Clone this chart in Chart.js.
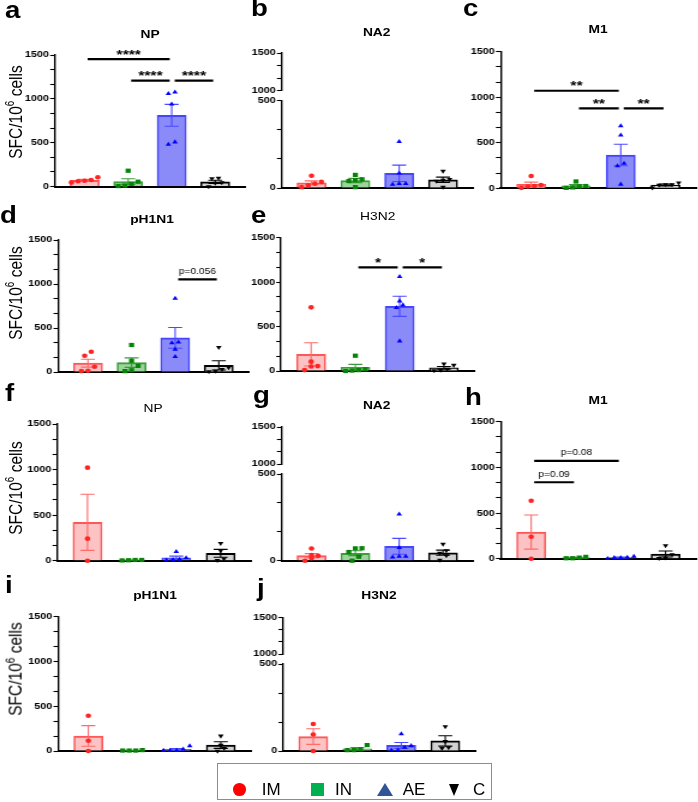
<!DOCTYPE html>
<html>
<head>
<meta charset="utf-8">
<script src="https://cdn.jsdelivr.net/npm/chart.js@4.4.1/dist/chart.umd.min.js"></script>
<style>
html,body{margin:0;padding:0;background:#fff;width:698px;height:802px;overflow:hidden;font-family:"Liberation Sans",Arial,sans-serif;}
#fig{position:absolute;left:0;top:0;width:582px;height:802px;transform:scaleX(1.2);transform-origin:0 0;}
#fig canvas{position:absolute;}
.lbl{position:absolute;font-weight:bold;font-size:23px;line-height:23px;color:#000;white-space:nowrap;}
.ttl{position:absolute;font-size:11.5px;color:#000;transform:translate(-50%,-50%);white-space:nowrap;}
.ytl{position:absolute;font-size:15.5px;color:#000;white-space:nowrap;transform:translate(-50%,-50%) rotate(-90deg);}
.ytl sup{font-size:10px;vertical-align:6px;line-height:0;}
#legend{position:absolute;left:217px;top:763px;width:275px;height:37px;border:1.5px solid #8d8d8d;box-sizing:border-box;}
.lg{position:absolute;}
.lt{position:absolute;font-size:17px;line-height:17px;color:#000;}
</style>
</head>
<body>
<div id="fig"></div>
<div id="legend"></div>
<div class="lg" style="left:233px;top:783px;width:12.7px;height:12.7px;border-radius:50%;background:#ff0000;"></div>
<div class="lt" style="left:261.7px;top:781px;">IM</div>
<div class="lg" style="left:311px;top:783px;width:13px;height:13px;background:#00b050;"></div>
<div class="lt" style="left:335px;top:781px;">IN</div>
<div class="lg" style="left:376.5px;top:783px;width:0;height:0;border-left:8.5px solid transparent;border-right:8.5px solid transparent;border-bottom:13px solid #2f5597;"></div>
<div class="lt" style="left:402.7px;top:781px;">AE</div>
<div class="lg" style="left:449.2px;top:783.5px;width:0;height:0;border-left:5.8px solid transparent;border-right:5.8px solid transparent;border-top:12.5px solid #000;"></div>
<div class="lt" style="left:473px;top:781px;">C</div>
<script>
// ---------------- data ----------------
const groups = ['IM', 'IN', 'AE', 'C'];
const panelLetters = ['a', 'b', 'c', 'd', 'e', 'f', 'g', 'h', 'i', 'j'];
const panelTitles = ['NP', 'NA2', 'M1', 'pH1N1', 'H3N2', 'NP', 'NA2', 'M1', 'pH1N1', 'H3N2'];
const yAxisTitleMain = 'SFC/10';
const yAxisTitleSup = '6';
const yAxisTitleEnd = ' cells';
const ticksFull = [0, 500, 1000, 1500];
const ticksLow = [0, 500];
const ticksHigh = [1000, 1500];

const meanA = [70, 56, 812, 54];
const semA = [11, 32, 125, 18];
const ptsA_IM = [45, 60, 65, 75, 105];
const ptsA_IN = [180, 55, 30, 5, 10];
const ptsA_AE = [1075, 1058, 940, 481, 507];
const ptsA_C = [90, 95, 45, 40, 0];
const sigA = [[0, 2, 1454, '****'], [1, 2, 1207, '****'], [2, 3, 1207, '****']];

const meanB = [30, 43, 84, 47];
const semB = [11, 12, 47, 15];
const ptsB_IM = [70, 35, 25, 5, 15];
const ptsB_IN = [75, 50, 45, 40, 5];
const ptsB_AE = [265, 85, 25, 20, 25];
const ptsB_C = [97, 50, 45, 40, 5];

const meanC = [44, 27, 366, 36];
const semC = [24, 13, 118, 10];
const ptsC_IM = [135, 35, 25, 5, 20];
const ptsC_IN = [75, 25, 20, 10, 5];
const ptsC_AE = [684, 584, 274, 245, 44];
const ptsC_C = [60, 40, 35, 40, 5];
const sigC = [[0, 2, 1071, '**'], [1, 2, 878, '**'], [2, 3, 878, '**']];

const meanD = [100, 107, 388, 75];
const semD = [45, 54, 118, 52];
const ptsD_IM = [230, 185, 60, 15, 10];
const ptsD_IN = [307, 128, 70, 20, 10];
const ptsD_AE = [837, 330, 340, 258, 174];
const ptsD_C = [281, 50, 30, 10, 5];
const sigD = [[2, 3, 1053, 'p=0.056']];

const meanE = [187, 41, 728, 36];
const semE = [131, 33, 113, 15];
const ptsE_IM = [716, 105, 55, 50, 10];
const ptsE_IN = [172, 20, 10, 5, 0];
const ptsE_AE = [1061, 787, 742, 712, 337];
const ptsE_C = [80, 65, 20, 10, 5];
const sigE = [[1, 2, 1167, '*'], [2, 3, 1167, '*']];

const meanF = [421, 6, 32, 81];
const semF = [308, 1.5, 18, 43];
const ptsF_IM = [1021, 242, 0];
const ptsF_IN = [3, 8, 5, 8];
const ptsF_AE = [99, 30, 15, 5, 10];
const ptsF_C = [190, 110, 20, 5];

const meanG = [29, 43, 83, 46];
const semG = [12, 14, 46, 15];
const ptsG_IM = [70, 33, 28, 15, 0];
const ptsG_IN = [71, 72, 50, 23, 0];
const ptsG_AE = [268, 75, 25, 20, 25];
const ptsG_C = [96, 58, 44, 30, 4];

const meanH = [292, 10, 12, 51];
const semH = [187, 4, 5, 33];
const ptsH_IM = [635, 241, 0];
const ptsH_IN = [5, 20, 5, 12];
const ptsH_AE = [10, 25, 10, 15, 0];
const ptsH_C = [143, 45, 10, 5];
const sigH = [[0, 2, 1070, 'p=0.08'], [0, 1, 837, 'p=0.09']];

const meanI = [168, 6, 18, 66];
const semI = [115, 2, 10, 37];
const ptsI_IM = [394, 115, 0];
const ptsI_IN = [5, 10, 5, 5];
const ptsI_AE = [56, 5, 20, 5, 5];
const ptsI_C = [168, 65, 30, 0];

const meanJ = [83, 13, 32, 58];
const semJ = [45, 7, 17, 30];
const ptsJ_IM = [155, 95, 0];
const ptsJ_IN = [34, 10, 5, 5];
const ptsJ_AE = [98, 30, 20, 5, 5];
const ptsJ_C = [140, 55, 20, 15];

const panels = [
  {mean: meanA, sem: semA, pts: [ptsA_IM, ptsA_IN, ptsA_AE, ptsA_C], sig: sigA, broken: false},
  {mean: meanB, sem: semB, pts: [ptsB_IM, ptsB_IN, ptsB_AE, ptsB_C], sig: null, broken: true},
  {mean: meanC, sem: semC, pts: [ptsC_IM, ptsC_IN, ptsC_AE, ptsC_C], sig: sigC, broken: false},
  {mean: meanD, sem: semD, pts: [ptsD_IM, ptsD_IN, ptsD_AE, ptsD_C], sig: sigD, broken: false},
  {mean: meanE, sem: semE, pts: [ptsE_IM, ptsE_IN, ptsE_AE, ptsE_C], sig: sigE, broken: false},
  {mean: meanF, sem: semF, pts: [ptsF_IM, ptsF_IN, ptsF_AE, ptsF_C], sig: null, broken: false},
  {mean: meanG, sem: semG, pts: [ptsG_IM, ptsG_IN, ptsG_AE, ptsG_C], sig: null, broken: true},
  {mean: meanH, sem: semH, pts: [ptsH_IM, ptsH_IN, ptsH_AE, ptsH_C], sig: sigH, broken: false},
  {mean: meanI, sem: semI, pts: [ptsI_IM, ptsI_IN, ptsI_AE, ptsI_C], sig: null, broken: false},
  {mean: meanJ, sem: semJ, pts: [ptsJ_IM, ptsJ_IN, ptsJ_AE, ptsJ_C], sig: null, broken: true}
];

// ---------------- styles & layout ----------------
const SX = 1.2;            // horizontal stretch of the figure
const XMIN = -0.68, XMAX = 3.68;
const LW = 36, PADV = 12;
const BARW = 29, CAP = 7, STEP = 6.6, THR = 5.5;
const barFill = ['#fbc3c3', '#9dd49d', '#8a8af9', '#d3d3d3'];
const barLine = ['#ff5656', '#3d9e3d', '#4545fb', '#000000'];
const errColor = ['#ff6a6a', '#3a9a3a', '#4a4aff', '#000000'];
const ptColor = ['#ff2424', '#078407', '#0000ff', '#000000'];
const ptStyle = ['circle', 'rect', 'triangle', 'triangle'];
const ptRot = [0, 0, 0, 180];
const ptRadius = [2.3, 3.0, 2.7, 2.7];
const FONT = '"Liberation Sans", Arial, sans-serif';

const L = [
  {axL: 55, axR: 245, top: 55, bot: 186.5, lx: 5, ly: 18.5, tx: 150, ty: 33.5, bold: true, yt: 112},
  {axL: 281.7, axR: 473, top: 100.7, bot: 188, sTop: 53, sBot: 90.7, lx: 251, ly: 16.5, tx: 376.7, ty: 31.7, bold: true},
  {axL: 500.7, axR: 697, top: 51.7, bot: 188.3, lx: 463, ly: 16.7, tx: 598, ty: 29.3, bold: true},
  {axL: 58.3, axR: 249, top: 240, bot: 372, lx: 0, ly: 223, tx: 152, ty: 219, bold: true, yt: 293},
  {axL: 281, axR: 475, top: 237.7, bot: 371, lx: 251, ly: 223, tx: 377.7, ty: 215.5, bold: false},
  {axL: 57.3, axR: 252, top: 424, bot: 560.7, lx: 5, ly: 401.7, tx: 153, ty: 408, bold: false, yt: 487.5},
  {axL: 281.7, axR: 473, top: 474, bot: 560.7, sTop: 427, sBot: 464, lx: 253, ly: 403, tx: 376.7, ty: 405, bold: true},
  {axL: 500.7, axR: 697, top: 421.7, bot: 558.7, lx: 465, ly: 405, tx: 598, ty: 400, bold: true},
  {axL: 58.3, axR: 252, top: 616.7, bot: 751, lx: 5, ly: 593, tx: 155, ty: 594.5, bold: true, yt: 669},
  {axL: 283.3, axR: 476, top: 664, bot: 751, sTop: 617.7, sBot: 654, lx: 257, ly: 596, tx: 379, ty: 594.5, bold: true}
];

Chart.defaults.font.family = FONT;
const fig = document.getElementById('fig');

function buildTicks(majors) {
  const out = [];
  for (let k = 0; k < majors.length; k++) {
    out.push(majors[k]);
    if (k < majors.length - 1) {
      const a = majors[k], b = majors[k + 1];
      out.push(a + (b - a) / 3, a + 2 * (b - a) / 3);
    }
  }
  return out;
}

function yScale(min, max, majors, lw) {
  const all = buildTicks(majors);
  return {
    type: 'linear', position: 'left', min: min, max: max, offset: false,
    afterBuildTicks: s => { s.ticks = all.map(v => ({value: v})); },
    afterFit: s => { s.width = lw; },
    ticks: {autoSkip: false, padding: 1, color: '#000',
      font: {family: FONT, size: 9, weight: 'bold'},
      callback: v => majors.includes(v) ? String(v) : ''},
    grid: {display: true, offset: false, drawOnChartArea: false, drawTicks: true, tickLength: 4,
      tickColor: '#000', tickWidth: 1.1, color: '#000'},
    border: {display: true, color: '#000', width: 1.4}
  };
}

function xScale(show) {
  return {
    type: 'linear', min: XMIN, max: XMAX, display: show, offset: false,
    ticks: {display: false}, grid: {display: false, offset: false},
    border: {display: true, color: '#000', width: 2},
    afterFit: s => { s.height = 0; }
  };
}

function place(axL, axR, top, bot) {
  const axLu = axL / SX, Wu = (axR - axL) / SX;
  const left = Math.floor(axLu - LW);
  const lw = axLu - left;
  const width = Math.ceil(lw + Wu + 3);
  const right = width - lw - Wu;
  const ctop = Math.floor(top - PADV);
  const ptop = top - ctop;
  const height = Math.ceil(ptop + (bot - top) + PADV);
  const pbot = height - ptop - (bot - top);
  return {left, lw, width, right, ctop, ptop, height, pbot, Wu};
}

function makeCanvas(geom) {
  const cv = document.createElement('canvas');
  cv.width = geom.width; cv.height = geom.height;
  cv.style.left = geom.left + 'px'; cv.style.top = geom.ctop + 'px';
  cv.style.width = geom.width + 'px'; cv.style.height = geom.height + 'px';
  fig.appendChild(cv);
  return cv;
}

function swarm(vals, unitPx, catPx) {
  const idx = vals.map((v, i) => i).sort((a, b) => vals[a] - vals[b]);
  const off = new Array(vals.length).fill(0);
  let cl = [];
  const flush = () => {
    const n = cl.length;
    cl.forEach((k, j) => { off[k] = (j - (n - 1) / 2) * (STEP / SX) / catPx; });
    cl = [];
  };
  for (const k of idx) {
    if (cl.length && (vals[k] - vals[cl[0]]) * unitPx > THR) flush();
    cl.push(k);
  }
  flush();
  return off;
}

function errPlugin(P) {
  return {
    id: 'errbars',
    afterDatasetDraw(chart, args) {
      if (args.index !== 0) return;
      const ctx = chart.ctx, xs = chart.scales.x, ys = chart.scales.y;
      const hw = CAP / SX;
      ctx.save();
      P.mean.forEach((m, i) => {
        const cx = xs.getPixelForValue(i);
        const yt = ys.getPixelForValue(m + P.sem[i]);
        const yb = ys.getPixelForValue(Math.max(m - P.sem[i], ys.min));
        ctx.strokeStyle = errColor[i];
        ctx.lineWidth = 1.1;
        ctx.beginPath();
        ctx.moveTo(cx, yt); ctx.lineTo(cx, yb);
        ctx.moveTo(cx - hw, yt); ctx.lineTo(cx + hw, yt);
        ctx.moveTo(cx - hw, yb); ctx.lineTo(cx + hw, yb);
        ctx.stroke();
      });
      ctx.restore();
    }
  };
}

function sigPlugin(P) {
  return {
    id: 'sigbars',
    afterDatasetsDraw(chart) {
      if (!P.sig) return;
      const ctx = chart.ctx, xs = chart.scales.x, ys = chart.scales.y;
      ctx.save();
      P.sig.forEach(([i, j, v, txt]) => {
        const x1 = xs.getPixelForValue(i) + 3 / SX;
        const x2 = xs.getPixelForValue(j) - 2 / SX;
        const yy = ys.getPixelForValue(v);
        ctx.strokeStyle = '#000';
        ctx.lineWidth = 2.2;
        ctx.beginPath(); ctx.moveTo(x1, yy); ctx.lineTo(x2, yy); ctx.stroke();
        const isP = txt.charAt(0) === 'p';
        ctx.fillStyle = '#000';
        ctx.textAlign = 'center';
        ctx.textBaseline = 'alphabetic';
        ctx.font = isP ? ('8.5px ' + FONT) : ('bold 13px ' + FONT);
        ctx.fillText(txt, (x1 + x2) / 2, isP ? yy - 5.7 : yy - 0.5);
      });
      ctx.restore();
    }
  };
}

function panelChart(pi) {
  const g = L[pi], P = panels[pi];
  const ymax = P.broken ? 500 : 1500;
  const majors = P.broken ? ticksLow : ticksFull;
  const geom = place(g.axL, g.axR, g.top, g.bot);
  const cv = makeCanvas(geom);
  const unitPx = (g.bot - g.top) / ymax;
  const catPx = geom.Wu / (XMAX - XMIN);
  const datasets = [{
    type: 'bar', order: 2, clip: false,
    label: 'mean',
    data: P.mean.map((m, i) => ({x: i, y: m})),
    backgroundColor: barFill, borderColor: barLine,
    borderWidth: {top: 2, left: 1.6, right: 1.6, bottom: 0},
    borderSkipped: 'start',
    barThickness: BARW / SX
  }];
  P.pts.forEach((vals, gi) => {
    const off = swarm(vals, unitPx, catPx);
    datasets.push({
      type: 'scatter', order: 1, clip: false, label: groups[gi],
      data: vals.map((v, k) => ({x: gi + off[k], y: v})),
      pointStyle: ptStyle[gi], pointRotation: ptRot[gi], pointRadius: ptRadius[gi],
      pointBackgroundColor: ptColor[gi], pointBorderColor: ptColor[gi], pointBorderWidth: 0
    });
  });
  new Chart(cv, {
    type: 'bar',
    data: {datasets},
    options: {
      responsive: false, animation: false, events: [],
      layout: {padding: {left: 0, top: geom.ptop, right: geom.right, bottom: geom.pbot}},
      plugins: {legend: {display: false}, tooltip: {enabled: false}, title: {display: false}},
      scales: {
        x: xScale(true),
        y: yScale(0, ymax, majors, geom.lw)
      }
    },
    plugins: [errPlugin(P), sigPlugin(P)]
  });
  if (P.broken) {
    const gs = place(g.axL, g.axR, g.sTop, g.sBot);
    const cs = makeCanvas(gs);
    new Chart(cs, {
      type: 'bar',
      data: {datasets: []},
      options: {
        responsive: false, animation: false, events: [],
        layout: {padding: {left: 0, top: gs.ptop, right: gs.right, bottom: gs.pbot}},
        plugins: {legend: {display: false}, tooltip: {enabled: false}},
        scales: {
          x: xScale(false),
          y: yScale(1000, 1500, ticksHigh, gs.lw)
        }
      }
    });
  }
  const lb = document.createElement('div');
  lb.className = 'lbl';
  lb.textContent = panelLetters[pi];
  lb.style.left = (g.lx / SX) + 'px';
  lb.style.top = (g.ly - 19.5) + 'px';
  fig.appendChild(lb);
  const tt = document.createElement('div');
  tt.className = 'ttl';
  tt.textContent = panelTitles[pi];
  tt.style.left = (g.tx / SX) + 'px';
  tt.style.top = g.ty + 'px';
  tt.style.fontWeight = g.bold ? 'bold' : 'normal';
  fig.appendChild(tt);
  if (g.yt) {
    const yt = document.createElement('div');
    yt.className = 'ytl';
    yt.innerHTML = yAxisTitleMain + '<sup>' + yAxisTitleSup + '</sup>' + yAxisTitleEnd;
    yt.style.left = (15 / SX) + 'px';
    yt.style.top = g.yt + 'px';
    fig.appendChild(yt);
  }
}

for (let i = 0; i < panels.length; i++) panelChart(i);
</script>
</body>
</html>
